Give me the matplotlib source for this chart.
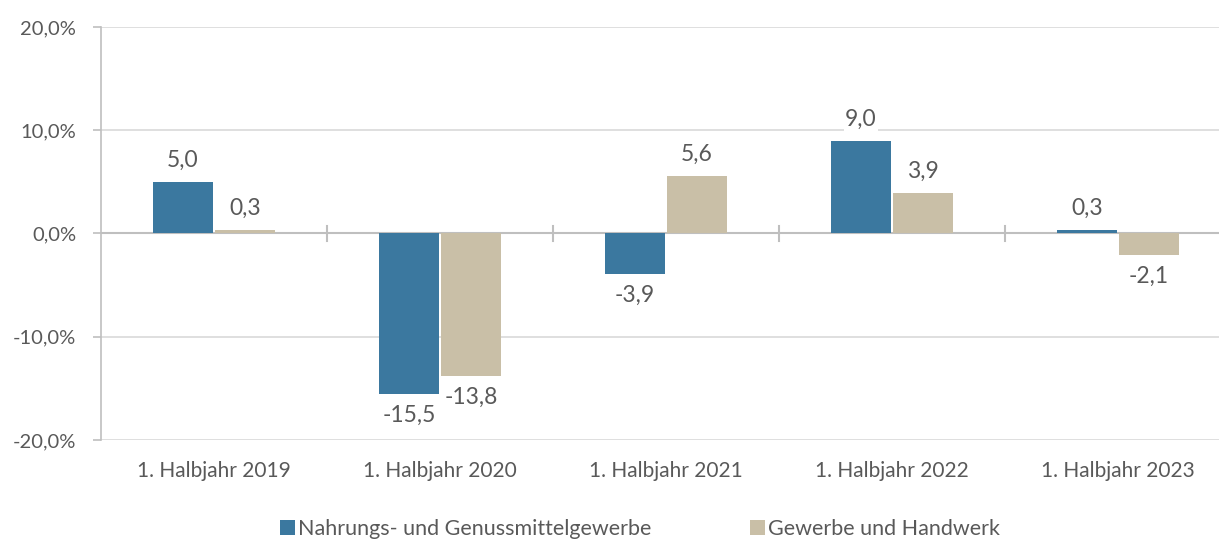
import numpy as np
import matplotlib.pyplot as plt

# data
kategorien = ['1. Halbjahr 2019', '1. Halbjahr 2020', '1. Halbjahr 2021',
              '1. Halbjahr 2022', '1. Halbjahr 2023']
nahrung = [5.0, -15.5, -3.9, 9.0, 0.3]
gewerbe = [0.3, -13.8, 5.6, 3.9, -2.1]
serien = ['Nahrungs- und Genussmittelgewerbe', 'Gewerbe und Handwerk']

blau = '#3B789F'
beige = '#C9BFA7'
grau = '#595959'
linie = '#D9D9D9'

plt.rcParams['font.family'] = ['Lato', 'DejaVu Sans']

fig = plt.figure(figsize=(12.19, 5.44), dpi=100)
ax = fig.add_axes([0.0829, 0.1912, 0.9171, 0.7592])

x = np.arange(len(kategorien))
w = 0.265
b1 = ax.bar(x - 0.137, nahrung, w, color=blau, label=serien[0], zorder=3)
b2 = ax.bar(x + 0.137, gewerbe, w, color=beige, label=serien[1], zorder=3)

def fmt(v):
    return ('%.1f' % v).replace('.', ',')

for bars, werte in [(b1, nahrung), (b2, gewerbe)]:
    for r, v in zip(bars, werte):
        cx = r.get_x() + r.get_width() / 2
        if v >= 0:
            ax.annotate(fmt(v), (cx, v), xytext=(0, 8), textcoords='offset points',
                        ha='center', va='bottom', fontsize=16.5, color=grau, zorder=4,
                        bbox=dict(facecolor='white', edgecolor='none', pad=1))
        else:
            ax.annotate(fmt(v), (cx, v), xytext=(0, -8), textcoords='offset points',
                        ha='center', va='top', fontsize=16.5, color=grau, zorder=4)

ax.set_ylim(-20, 20)
ax.set_xlim(-0.5, 4.447)
ax.set_yticks([-20, -10, 0, 10, 20])
ax.set_yticklabels([fmt(v) + '%' for v in [-20, -10, 0, 10, 20]])
ax.yaxis.grid(True, color=linie, linewidth=1.2, zorder=0)
ax.axhline(0, color='#BFBFBF', linewidth=1.5, zorder=2)

# Trennstriche zwischen Kategorien
for s in x[:-1] + 0.5:
    ax.plot([s, s], [-0.7, 0.7], color='#BFBFBF', linewidth=1.5, zorder=2)

ax.set_xticks(x)
ax.set_xticklabels(kategorien)
ax.tick_params(axis='x', length=0, pad=15, labelsize=15, labelcolor=grau)
ax.tick_params(axis='y', length=6, width=1.2, color='#BFBFBF', pad=12,
               labelsize=14.5, labelcolor=grau)

for sp in ['top', 'right', 'bottom']:
    ax.spines[sp].set_visible(False)
ax.spines['left'].set_color('#BFBFBF')
ax.spines['left'].set_linewidth(1.2)

fig.legend(handles=[b1, b2], loc='lower left', bbox_to_anchor=(0.2199, -0.012),
           ncol=2, frameon=False, fontsize=15.5, labelcolor=grau, borderpad=0.05,
           handlelength=0.7, handleheight=0.7, handletextpad=0.12, columnspacing=4.6)

fig.savefig('out.png', dpi=100)
